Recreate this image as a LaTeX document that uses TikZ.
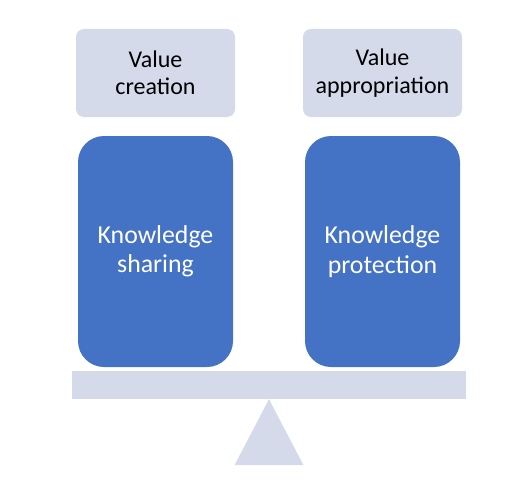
\documentclass[tikz,border=0pt]{standalone}
\usepackage{fontspec}
\setmainfont{Carlito}
\usepackage{xcolor}
\usepackage{tikz}
\usetikzlibrary{positioning}

\definecolor{paleblue}{HTML}{D5DAEA}
\definecolor{officeblue}{HTML}{4472C4}

\begin{document}
\begin{tikzpicture}[
    x=1pt, y=1pt,
    valuebox/.style={rounded corners=8pt, fill=paleblue, text=black, align=center, minimum width=159pt, minimum height=88pt, inner sep=0pt, font=\fontsize{24}{27.5}\selectfont},
    knowbox/.style={rounded corners=26pt, fill=officeblue, text=white, align=center, minimum width=155pt, minimum height=231pt, inner sep=0pt, font=\fontsize{25.8}{29.5}\selectfont},
    beamnode/.style={fill=paleblue, minimum width=394pt, minimum height=28pt, inner sep=0pt},
  ]
  \useasboundingbox (0,0) rectangle (529,483);
  \node[valuebox] (vcreate) at (155.5,410) {Value\\creation};
  \node[valuebox] (vapprop) at (382.5,410) {Value\\appropriation};
  \node[knowbox] (kshare) at (155.5,231.5) {Knowledge\\sharing};
  \node[knowbox] (kprotect) at (382.5,231.5) {Knowledge\\protection};
  \node[beamnode] (beam) at (269,98) {};
  % fulcrum under the beam
  \fill[paleblue] (beam.south) -- ++(-34.5,-66) -- ++(69,0) -- cycle;
\end{tikzpicture}
\end{document}
